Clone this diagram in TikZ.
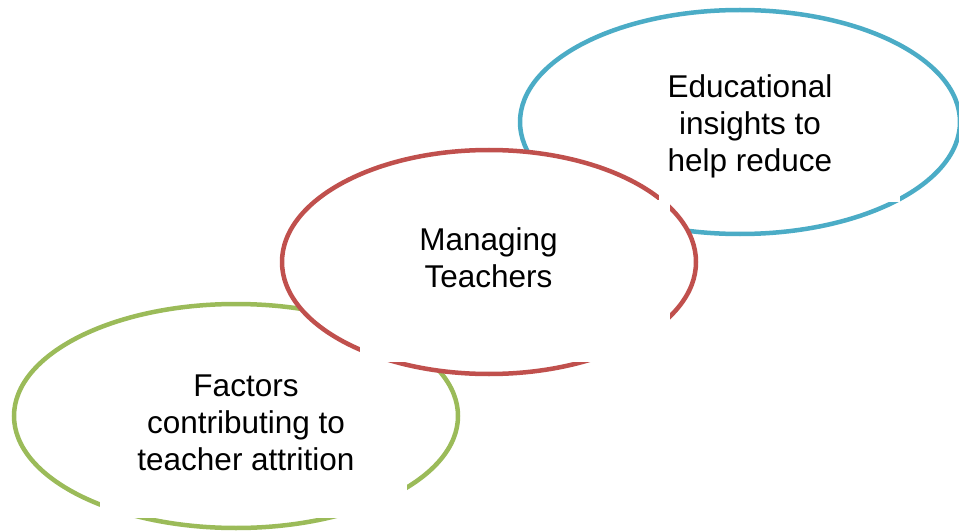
\documentclass[tikz,border=0pt]{standalone}
\usepackage{fontspec}
\setmainfont{Liberation Sans}
\usetikzlibrary{shapes.geometric}
\definecolor{ringblue}{HTML}{4BACC6}
\definecolor{ringred}{HTML}{C0504D}
\definecolor{ringgreen}{HTML}{9BBB59}
\begin{document}
\begin{tikzpicture}[x=1pt,y=-1pt,
  ring/.style={ellipse, draw, fill=white, line width=4.5pt, inner sep=0pt},
  ringtext/.style={align=center, font=\fontsize{31.5}{36.7}\selectfont, text=black, inner sep=0pt},
  textframe/.style={fill=white}]
\useasboundingbox (0,0) rectangle (959,532);
% lower ellipse and its text frame
\node[ring, draw=ringgreen, minimum width=444pt, minimum height=224pt] (factors) at (236,416) {};
\fill[textframe] (100,372) rectangle (407,518);
% upper ellipse
\node[ring, draw=ringblue, minimum width=440pt, minimum height=224pt] (insights) at (740,122) {};
% middle ellipse on top, with its text frame
\node[ring, draw=ringred, minimum width=414pt, minimum height=224pt] (managing) at (489,262) {};
\fill[textframe] (360,200) rectangle (670,362);
% text frame of the upper ellipse
\fill[textframe] (659,50) rectangle (900,202);
% texts
\node[ringtext] (insightsText) at (750,126.5) {Educational\\insights to\\help reduce};
\node[ringtext] (managingText) at (488.5,258) {Managing\\Teachers};
\node[ringtext] (factorsText) at (246,423) {Factors\\contributing to\\teacher attrition};
\end{tikzpicture}
\end{document}
